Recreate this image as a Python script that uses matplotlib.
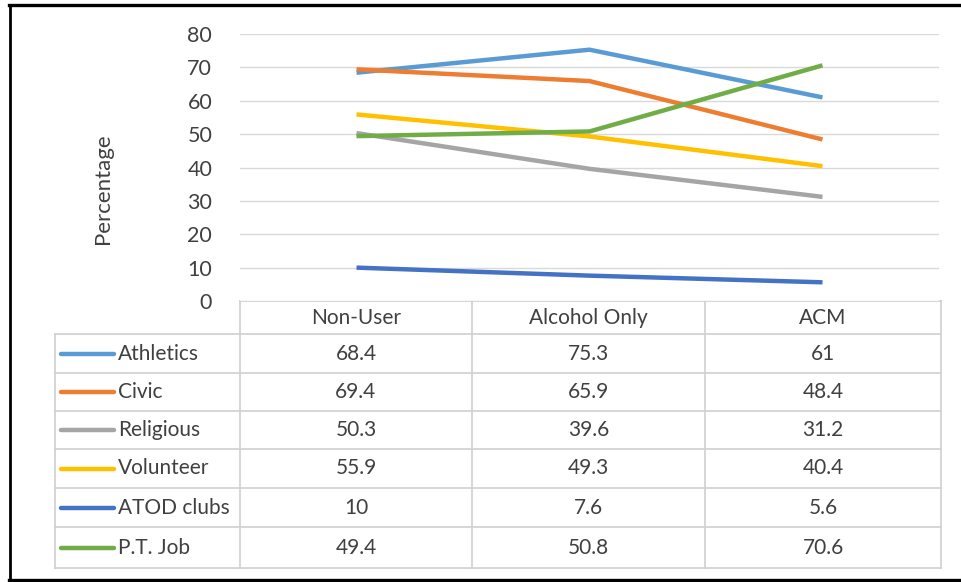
import matplotlib.pyplot as plt
from matplotlib.lines import Line2D

groups = ['Non-User', 'Alcohol Only', 'ACM']
series = ['Athletics', 'Civic', 'Religious', 'Volunteer', 'ATOD clubs', 'P.T. Job']
athletics = [68.4, 75.3, 61]
civic = [69.4, 65.9, 48.4]
religious = [50.3, 39.6, 31.2]
volunteer = [55.9, 49.3, 40.4]
atod = [10, 7.6, 5.6]
ptjob = [49.4, 50.8, 70.6]
labels = [['68.4', '75.3', '61'], ['69.4', '65.9', '48.4'], ['50.3', '39.6', '31.2'],
          ['55.9', '49.3', '40.4'], ['10', '7.6', '5.6'], ['49.4', '50.8', '70.6']]
colors = ['#5B9BD5', '#ED7D31', '#A5A5A5', '#FFC000', '#4472C4', '#70AD47']
yticks = [0, 10, 20, 30, 40, 50, 60, 70, 80]

plt.rcParams['font.family'] = ['Lato', 'DejaVu Sans']
W, H = 961, 582
fig = plt.figure(figsize=(W / 100, H / 100), dpi=100)

def fx(px):
    return px / W

def fy(py):
    return 1 - py / H

left, right, top, bottom = 240, 939, 34, 301
ax = fig.add_axes([fx(left), fy(bottom), fx(right - left), (bottom - top) / H])
data = [athletics, civic, religious, volunteer, atod, ptjob]
xs = [0, 1, 2]
for vals, c in zip(data, colors):
    ax.plot(xs, vals, color=c, linewidth=3.2, solid_capstyle='butt', zorder=3)
ax.set_xlim(-0.5, 2.5)
ax.set_ylim(0, 80)
ax.set_yticks(yticks)
ax.set_xticks([])
ax.grid(axis='y', color='#d9d9d9', linewidth=1)
ax.set_axisbelow(True)
for s in ax.spines.values():
    s.set_visible(False)
ax.tick_params(axis='y', length=0, pad=20, labelsize=15.5, labelcolor='#404040')
ax.set_ylabel('Percentage', fontsize=16, color='#404040')
ax.yaxis.set_label_coords(-0.182, 0.42)

# data table + outer frame, drawn in pixel coordinates
tax = fig.add_axes([0, 0, 1, 1], zorder=-1)
tax.set_xlim(0, W)
tax.set_ylim(H, 0)
tax.axis('off')
tax.plot([9, 961], [5, 5], color='black', lw=2.4)
tax.plot([9.5, 9.5], [5, 580], color='black', lw=2.0)
tax.plot([9, 961], [579.5, 579.5], color='black', lw=2.4)

gc = '#d0d0d0'
col_edges = [240, 472, 705, 941]
row_edges = [301, 334, 373, 411, 449, 488, 527, 568]
tax.plot([240, 941], [301, 301], color=gc, lw=1.2)
for r in row_edges[1:]:
    tax.plot([55, 941], [r, r], color=gc, lw=1.2)
tax.plot([55, 55], [row_edges[1], row_edges[-1]], color=gc, lw=1.2)
for cx in col_edges:
    tax.plot([cx, cx], [301, row_edges[-1]], color=gc, lw=1.2)
for j, g in enumerate(groups):
    tax.text((col_edges[j] + col_edges[j + 1]) / 2, (row_edges[0] + row_edges[1]) / 2 + 1, g,
             ha='center', va='center', fontsize=15, color='#404040')
for i, name in enumerate(series):
    yc = (row_edges[i + 1] + row_edges[i + 2]) / 2
    tax.add_line(Line2D([61, 114], [yc, yc], color=colors[i], linewidth=3.2, solid_capstyle='round'))
    tax.text(118, yc, name, ha='left', va='center', fontsize=15, color='#404040')
    for j in range(3):
        tax.text((col_edges[j] + col_edges[j + 1]) / 2, yc, labels[i][j],
                 ha='center', va='center', fontsize=15, color='#404040')

fig.savefig('out.png', dpi=100)
